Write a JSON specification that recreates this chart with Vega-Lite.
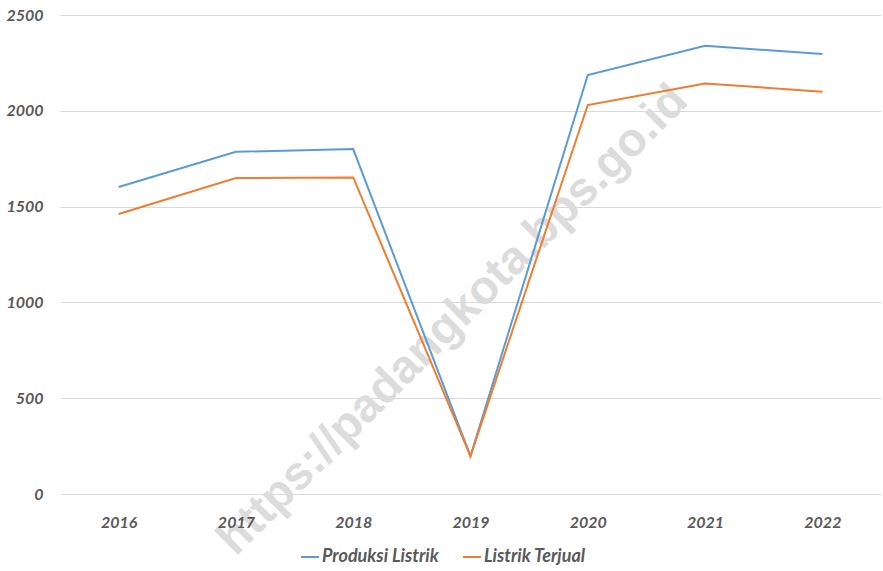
{
  "$schema": "https://vega.github.io/schema/vega-lite/v6.json",
  "width": 821,
  "height": 479,
  "autosize": "none",
  "padding": {"left": 60, "top": 15, "right": 2, "bottom": 77},
  "background": "white",
  "config": {"view": {"stroke": null}, "font": "Lato"},
  "datasets": {
    "listrik": [
      {"tahun": "2016", "seri": "Produksi Listrik", "nilai": 1602},
      {"tahun": "2017", "seri": "Produksi Listrik", "nilai": 1786},
      {"tahun": "2018", "seri": "Produksi Listrik", "nilai": 1800},
      {"tahun": "2019", "seri": "Produksi Listrik", "nilai": 198},
      {"tahun": "2020", "seri": "Produksi Listrik", "nilai": 2187},
      {"tahun": "2021", "seri": "Produksi Listrik", "nilai": 2340},
      {"tahun": "2022", "seri": "Produksi Listrik", "nilai": 2296},
      {"tahun": "2016", "seri": "Listrik Terjual", "nilai": 1461},
      {"tahun": "2017", "seri": "Listrik Terjual", "nilai": 1649},
      {"tahun": "2018", "seri": "Listrik Terjual", "nilai": 1652},
      {"tahun": "2019", "seri": "Listrik Terjual", "nilai": 198},
      {"tahun": "2020", "seri": "Listrik Terjual", "nilai": 2030},
      {"tahun": "2021", "seri": "Listrik Terjual", "nilai": 2143},
      {"tahun": "2022", "seri": "Listrik Terjual", "nilai": 2100}
    ],
    "watermark": [
      {"teks": "https://padangkota.bps.go.id"}
    ]
  },
  "layer": [
    {
      "data": {"name": "watermark"},
      "mark": {"type": "text", "angle": 315, "fontSize": 47, "fontWeight": "bold", "font": "Liberation Sans", "color": "#dcdcdc", "align": "center", "baseline": "middle", "dx": -25},
      "encoding": {
        "x": {
          "datum": "2019", "type": "ordinal", "title": null,
          "axis": {"labelAngle": 0, "domain": false, "ticks": false, "grid": false, "zindex": 1, "labelPadding": 20, "labelFont": "Lato", "labelFontSize": 16, "labelFontStyle": "italic", "labelFontWeight": "bold", "labelColor": "#595959"}
        },
        "y": {
          "datum": 1000, "type": "quantitative", "title": null,
          "scale": {"domain": [0, 2500], "nice": false},
          "axis": {"values": [0, 500, 1000, 1500, 2000, 2500], "format": "d", "grid": true, "domain": false, "ticks": false, "gridColor": "#d9d9d9", "gridWidth": 1, "labelPadding": 17, "labelFont": "Lato", "labelFontSize": 16, "labelFontStyle": "italic", "labelFontWeight": "bold", "labelColor": "#595959", "labelAlign": "right"}
        },
        "text": {"field": "teks"}
      }
    },
    {
      "data": {"name": "listrik"},
      "mark": {"type": "line", "strokeWidth": 2},
      "encoding": {
        "x": {
          "field": "tahun", "type": "ordinal", "title": null,
          "axis": {"labelAngle": 0, "domain": false, "ticks": false, "grid": false, "zindex": 1, "labelPadding": 20, "labelFont": "Lato", "labelFontSize": 16, "labelFontStyle": "italic", "labelFontWeight": "bold", "labelColor": "#595959"}
        },
        "y": {
          "field": "nilai", "type": "quantitative", "title": null,
          "scale": {"domain": [0, 2500], "nice": false},
          "axis": {"values": [0, 500, 1000, 1500, 2000, 2500], "format": "d", "grid": true, "domain": false, "ticks": false, "gridColor": "#d9d9d9", "gridWidth": 1, "labelPadding": 17, "labelFont": "Lato", "labelFontSize": 16, "labelFontStyle": "italic", "labelFontWeight": "bold", "labelColor": "#595959", "labelAlign": "right"}
        },
        "color": {
          "field": "seri", "type": "nominal", "title": null,
          "sort": ["Produksi Listrik", "Listrik Terjual"],
          "scale": {"domain": ["Produksi Listrik", "Listrik Terjual"], "range": ["#5b9bd5", "#ed7d31"]},
          "legend": {"orient": "none", "direction": "horizontal", "legendX": 240, "legendY": 532, "symbolType": "stroke", "symbolSize": 324, "symbolStrokeWidth": 2, "labelFont": "Lato", "labelFontSize": 18, "labelFontStyle": "italic", "labelFontWeight": "bold", "labelColor": "#595959", "columnPadding": 20, "labelOffset": 2}
        },
        "order": {"field": "seri", "sort": "descending"}
      }
    }
  ]
}
